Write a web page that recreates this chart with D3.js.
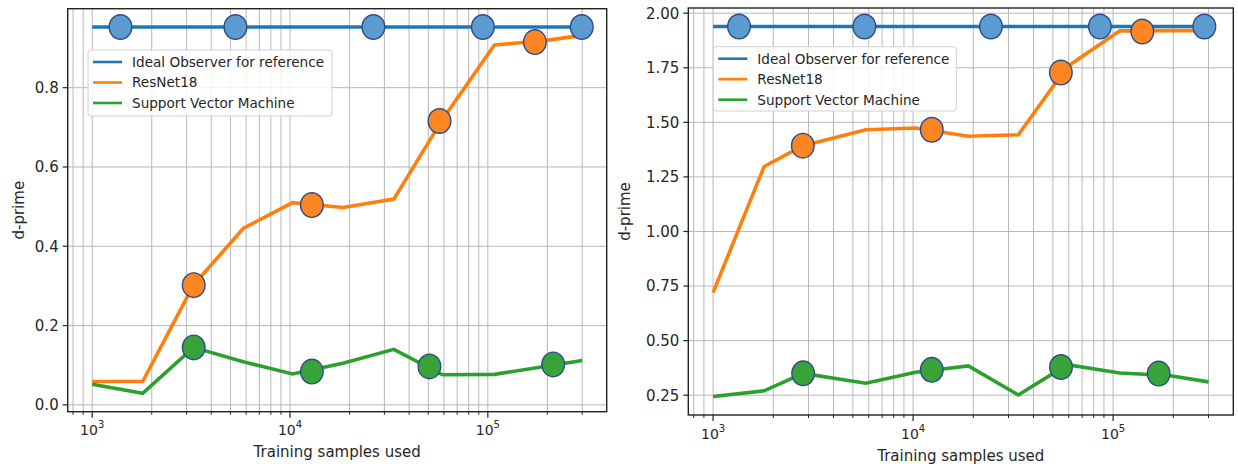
<!DOCTYPE html>
<html>
<head>
<meta charset="utf-8">
<script src="https://cdn.jsdelivr.net/npm/d3@7"></script>
<style>
  html, body { margin: 0; padding: 0; background: #fff; }
  svg { display: block; font-family: "DejaVu Sans", sans-serif; }
</style>
</head>
<body>
<svg id="chart" width="1238" height="468"></svg>
<script>
// ---- Data ---------------------------------------------------------------
const seriesNames = ["Ideal Observer for reference", "ResNet18", "Support Vector Machine"];

// Panel A (left)
const samplesA = [1000, 1800, 3250, 5800, 10300, 18500, 33500, 59000, 108000, 190000, 300000];
const idealA   = [0.953, 0.953, 0.953, 0.953, 0.953, 0.953, 0.953, 0.953, 0.953, 0.953, 0.953];
const resnetA  = [0.059, 0.059, 0.302, 0.445, 0.510, 0.498, 0.519, 0.720, 0.908, 0.918, 0.932];
const svmA     = [0.052, 0.029, 0.145, 0.109, 0.078, 0.105, 0.140, 0.076, 0.077, 0.096, 0.112];
const idealMarkA  = { x: [1390, 5300, 26400, 94400, 298500], y: [0.953, 0.953, 0.953, 0.953, 0.953] };
const resnetMarkA = { x: [3260, 12900, 57000, 173000],       y: [0.302, 0.504, 0.716, 0.915] };
const svmMarkA    = { x: [3260, 12900, 50700, 214000],       y: [0.145, 0.084, 0.097, 0.102] };
const yTicksA = [0.0, 0.2, 0.4, 0.6, 0.8];

// Panel B (right)
const samplesB = [1000, 1800, 2820, 5800, 10300, 18900, 33600, 59000, 108000, 190000, 300000];
const idealB   = [1.939, 1.939, 1.939, 1.939, 1.939, 1.939, 1.939, 1.939, 1.939, 1.939, 1.939];
const resnetB  = [0.720, 1.298, 1.393, 1.466, 1.474, 1.436, 1.443, 1.755, 1.919, 1.920, 1.920];
const svmB     = [0.244, 0.270, 0.350, 0.305, 0.355, 0.384, 0.251, 0.390, 0.352, 0.340, 0.311];
const idealMarkB  = { x: [1348, 5710, 24500, 85900, 286000], y: [1.939, 1.939, 1.939, 1.939, 1.939] };
const resnetMarkB = { x: [2810, 12400, 54800, 140000],       y: [1.393, 1.466, 1.728, 1.916] };
const svmMarkB    = { x: [2820, 12400, 54900, 169000],       y: [0.350, 0.366, 0.379, 0.349] };
const yTicksB = [0.25, 0.50, 0.75, 1.00, 1.25, 1.50, 1.75, 2.00];

const xMajorTicks = [1e3, 1e4, 1e5];
const xLabel = "Training samples used";
const yLabel = "d-prime";

// ---- Styling ------------------------------------------------------------
const lineColors   = ["#1f77b4", "#ff7f0e", "#2ca02c"];
const markerFills  = ["#5b9bd0", "#fd8522", "#37a339"];
const markerStroke = "#2b4c8c";
const gridColor = "#b8b8b8";
const textColor = "#262626";

const panels = [
  { box: { x0: 67.7, x1: 606.7, y0: 8.7, y1: 411.7 }, fmt: ".1f",
    samples: samplesA, lines: [idealA, resnetA, svmA],
    marks: [idealMarkA, resnetMarkA, svmMarkA], yTicks: yTicksA,
    legend: { x: 88, y: 50, w: 244, h: 66 },
    yLabelX: 19, tickBase: 435, xLabelBase: 457 },
  { box: { x0: 688.3, x1: 1233.3, y0: 8, y1: 415 }, fmt: ".2f",
    samples: samplesB, lines: [idealB, resnetB, svmB],
    marks: [idealMarkB, resnetMarkB, svmMarkB], yTicks: yTicksB,
    legend: { x: 713.3, y: 46.7, w: 243, h: 64.3 },
    yLabelX: 625, tickBase: 439, xLabelBase: 461 }
];

const svg = d3.select("#chart");

// Autoscale with 5% padding, as in the usual plotting defaults
function padded(lo, hi) { const m = (hi - lo) * 0.05; return [lo - m, hi + m]; }

panels.forEach(p => {
  const b = p.box;
  const allX = p.samples.concat(...p.marks.map(m => m.x));
  const allY = [].concat(...p.lines, ...p.marks.map(m => m.y));
  const lx = padded(Math.log10(d3.min(allX)), Math.log10(d3.max(allX)));
  const x = d3.scaleLog().domain([10 ** lx[0], 10 ** lx[1]]).range([b.x0, b.x1]);
  const y = d3.scaleLinear().domain(padded(d3.min(allY), d3.max(allY))).range([b.y1, b.y0]);

  const g = svg.append("g");

  // minor + major x positions for the log grid
  const [d0, d1] = x.domain();
  const minor = [];
  for (let e = Math.floor(Math.log10(d0)); e <= Math.ceil(Math.log10(d1)); e++) {
    for (let k = 2; k <= 9; k++) {
      const v = k * 10 ** e;
      if (v >= d0 && v <= d1) minor.push(v);
    }
  }

  // grid
  const grid = g.append("g").attr("stroke", gridColor).attr("stroke-width", 1);
  minor.concat(xMajorTicks).forEach(v => {
    grid.append("line").attr("x1", x(v)).attr("x2", x(v)).attr("y1", b.y0).attr("y2", b.y1);
  });
  p.yTicks.forEach(v => {
    grid.append("line").attr("x1", b.x0).attr("x2", b.x1).attr("y1", y(v)).attr("y2", y(v));
  });

  // series lines
  const line = d3.line().x(d => x(d[0])).y(d => y(d[1]));
  p.lines.forEach((vals, i) => {
    g.append("path")
      .datum(p.samples.map((s, j) => [s, vals[j]]))
      .attr("d", line)
      .attr("fill", "none")
      .attr("stroke", lineColors[i])
      .attr("stroke-width", 3.6)
      .attr("stroke-linejoin", "miter")
      .attr("stroke-linecap", "butt");
  });

  // markers on top of all lines
  p.marks.forEach((m, i) => {
    g.append("g").selectAll("ellipse")
      .data(m.x.map((v, j) => [v, m.y[j]]))
      .join("ellipse")
      .attr("cx", d => x(d[0])).attr("cy", d => y(d[1]))
      .attr("rx", 11.3).attr("ry", 12.3)
      .attr("fill", markerFills[i])
      .attr("stroke", markerStroke).attr("stroke-width", 1.4);
  });

  // frame
  g.append("rect")
    .attr("x", b.x0).attr("y", b.y0)
    .attr("width", b.x1 - b.x0).attr("height", b.y1 - b.y0)
    .attr("fill", "none").attr("stroke", "#222").attr("stroke-width", 1.4);

  // y axis ticks + labels
  const yax = g.append("g");
  p.yTicks.forEach(v => {
    yax.append("line").attr("x1", b.x0 - 5).attr("x2", b.x0)
      .attr("y1", y(v)).attr("y2", y(v)).attr("stroke", "#222").attr("stroke-width", 1.2);
    yax.append("text").attr("x", b.x0 - 9).attr("y", y(v)).attr("dy", "0.36em")
      .attr("text-anchor", "end").attr("font-size", 15).attr("fill", textColor)
      .text(d3.format(p.fmt)(v));
  });

  // x axis ticks + labels
  const xax = g.append("g");
  minor.forEach(v => {
    xax.append("line").attr("x1", x(v)).attr("x2", x(v))
      .attr("y1", b.y1).attr("y2", b.y1 + 3).attr("stroke", "#222").attr("stroke-width", 1);
  });
  xMajorTicks.forEach(v => {
    xax.append("line").attr("x1", x(v)).attr("x2", x(v))
      .attr("y1", b.y1).attr("y2", b.y1 + 6).attr("stroke", "#222").attr("stroke-width", 1.2);
    const t = xax.append("text").attr("x", x(v)).attr("y", p.tickBase)
      .attr("text-anchor", "middle").attr("font-size", 14).attr("fill", textColor);
    t.append("tspan").text("10");
    t.append("tspan").attr("dy", -7).attr("font-size", 10).text(Math.round(Math.log10(v)));
  });

  // axis labels
  g.append("text").attr("x", (b.x0 + b.x1) / 2).attr("y", p.xLabelBase)
    .attr("text-anchor", "middle").attr("font-size", 15).attr("fill", textColor).text(xLabel);
  g.append("text")
    .attr("transform", `translate(${p.yLabelX},${(b.y0 + b.y1) / 2}) rotate(-90)`)
    .attr("dy", "0.36em")
    .attr("text-anchor", "middle").attr("font-size", 15).attr("fill", textColor).text(yLabel);

  // legend
  const L = p.legend;
  const lg = g.append("g");
  lg.append("rect").attr("x", L.x).attr("y", L.y).attr("width", L.w).attr("height", L.h)
    .attr("rx", 3).attr("fill", "#fff").attr("fill-opacity", 0.85)
    .attr("stroke", "#d0d0d0").attr("stroke-width", 1);
  seriesNames.forEach((name, i) => {
    const cy = L.y + 12 + i * 20.5;
    lg.append("line").attr("x1", L.x + 5).attr("x2", L.x + 34).attr("y1", cy).attr("y2", cy)
      .attr("stroke", lineColors[i]).attr("stroke-width", 2.6);
    lg.append("text").attr("x", L.x + 44).attr("y", cy).attr("dy", "0.36em")
      .attr("font-size", 13.6).attr("fill", textColor).text(name);
  });
});
</script>
</body>
</html>
